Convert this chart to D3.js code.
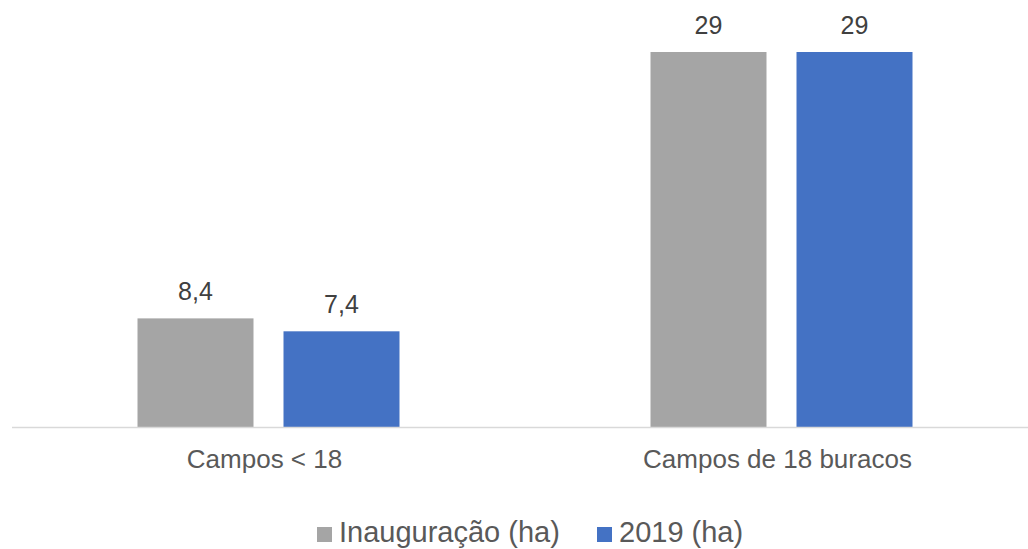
<!DOCTYPE html>
<html><head><meta charset="utf-8">
<script src="https://cdn.jsdelivr.net/npm/d3@7"></script>
<style>body{margin:0;background:#fff;}svg{display:block;font-family:"Liberation Sans",Arial,sans-serif;}</style>
</head><body>
<svg id="c" width="1028" height="549"></svg>
<script>
const categories = ["Campos < 18", "Campos de 18 buracos"];
const seriesNames = ["Inauguração (ha)", "2019 (ha)"];
const inauguracao = [8.4, 29];
const ano2019 = [7.4, 29];
const colors = ["#a5a5a5", "#4472c4"];
const seriesValues = [inauguracao, ano2019];

const svg = d3.select("#c");
const baseY = 427, topY = 52;
const x0 = d3.scaleBand().domain(categories).range([12, 1038]).padding(0);
const y = d3.scaleLinear().domain([0, 29]).range([baseY, topY]);
const innerW = 262;
const x1 = d3.scaleBand().domain(seriesNames).range([0, innerW]).paddingInner(30/146).paddingOuter(0);
const fmt = v => String(v).replace(".", ",");

categories.forEach((c, ci) => {
  const gx = x0(c) + x0.bandwidth()/2 - innerW/2;
  seriesNames.forEach((s, si) => {
    const v = seriesValues[si][ci];
    const bx = gx + x1(s);
    svg.append("rect").attr("x", bx).attr("y", y(v)).attr("width", x1.bandwidth())
      .attr("height", baseY - y(v)).attr("fill", colors[si]);
    svg.append("text").attr("x", bx + x1.bandwidth()/2).attr("y", y(v) - 18)
      .attr("text-anchor", "middle").attr("font-size", 25).attr("fill", "#404040").text(fmt(v));
  });
  svg.append("text").attr("x", x0(c) + x0.bandwidth()/2 - 4).attr("y", 468)
    .attr("text-anchor", "middle").attr("font-size", 26).attr("fill", "#595959").text(c);
});

svg.append("line").attr("x1", 12).attr("x2", 1028).attr("y1", baseY + 0.5).attr("y2", baseY + 0.5)
  .attr("stroke", "#d9d9d9").attr("stroke-width", 1.5);

// legend
const legX = [317, 597];
seriesNames.forEach((s, i) => {
  svg.append("rect").attr("x", legX[i]).attr("y", 527).attr("width", 15).attr("height", 15).attr("fill", colors[i]);
  svg.append("text").attr("x", legX[i] + 22).attr("y", 542).attr("font-size", 29).attr("fill", "#595959").text(s);
});
</script>
</body></html>
